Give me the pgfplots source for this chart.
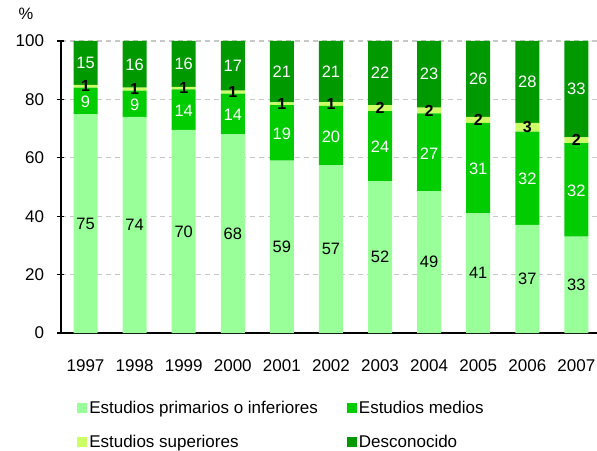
\documentclass[border=0pt]{standalone}
\usepackage{pgfplots}
\usepackage{pgfplotstable}
\pgfplotsset{compat=1.18}
\usetikzlibrary{calc}
\usepackage{fontspec}
\setmainfont{Liberation Sans}

\definecolor{cprim}{HTML}{99FF99}
\definecolor{cmed}{HTML}{00CC00}
\definecolor{csup}{HTML}{CCFF66}
\definecolor{cdesc}{HTML}{009900}
\definecolor{cgrid}{HTML}{C8C8C8}

% 0 = 1997 ... 10 = 2007
\pgfplotstableread{
x  prim  med   sup  desc
0  75    9     1    15
1  74    9     1    16
2  69.6  13.8  0.9  15.7
3  68    14    1    17
4  59    19    1    21
5  57.4  20.4  1.3  20.9
6  52    24    2    22
7  48.6  26.6  2.0  22.8
8  41    31    2    26
9  37    32    3    28
10 33    32    2    33
}\datatable

\begin{document}
\begin{tikzpicture}[font=\fontsize{16.5}{19}\selectfont]
\begin{axis}[
    name=ax,
    scale only axis,
    width=536pt, height=292pt,
    ybar stacked,
    bar width=0.49,
    xmin=-0.5, xmax=10.42,
    ymin=0, ymax=100,
    xtick={0,...,10},
    xticklabels={1997,1998,1999,2000,2001,2002,2003,2004,2005,2006,2007},
    xtick style={draw=none},
    xticklabel style={yshift=-20pt, font=\fontsize{17}{19}\selectfont},
    extra x ticks={-0.5,0.5,...,9.5},
    extra x tick labels={},
    extra x tick style={grid=none, major tick length=7pt, tick align=center,
        tick style={draw=black, line width=1.3pt}},
    ytick={0,20,...,100},
    ytick style={draw=black, line width=1.3pt},
    major tick length=7pt,
    tick align=center,
    yticklabel style={xshift=-10pt, font=\fontsize{17}{19}\selectfont},
    ymajorgrids,
    grid style={cgrid, line width=1.3pt, dash pattern=on 5pt off 4pt},
    axis lines*=left,
    axis line style={black, line width=1.5pt},
    /pgf/number format/assume math mode=true,
    point meta=rawy,
    nodes near coords={\pgfmathprintnumber[fixed,precision=0]{\pgfplotspointmeta}},
    every node near coord/.append style={anchor=center},
    legend columns=2,
    legend style={draw=none, fill=none, at={(axis description cs:0.03,-0.225)},
        anchor=north west, inner sep=0pt,
        font=\fontsize{17}{19}\selectfont,
        /tikz/every even column/.append style={column sep=27pt},
        /tikz/row sep=16pt,
        nodes={inner sep=2pt, anchor=west}},
    legend image code/.code={\fill[#1] (0pt,-5pt) rectangle (10pt,5pt);},
    clip=false,
]
\addplot[fill=cprim, draw=none, every node near coord/.append style={text=black}]
    table[x=x,y=prim]{\datatable};
\addplot[fill=cmed, draw=none, every node near coord/.append style={text=white, yshift=-1pt}]
    table[x=x,y=med]{\datatable};
\addplot[fill=csup, draw=none, every node near coord/.append style={text=black, font=\fontsize{16}{18}\selectfont\bfseries, inner sep=0pt}]
    table[x=x,y=sup]{\datatable};
\addplot[fill=cdesc, draw=none, every node near coord/.append style={text=white}]
    table[x=x,y=desc]{\datatable};
\legend{Estudios primarios o inferiores, Estudios medios, Estudios superiores, Desconocido}
\node at (rel axis cs:0,1) [xshift=-35pt, yshift=27pt] {\%};
\end{axis}
\pgfresetboundingbox
\path ($(ax.south west)+(-61pt,-117pt)$) rectangle ($(ax.north east)+(0pt,41pt)$);
\end{tikzpicture}
\end{document}
